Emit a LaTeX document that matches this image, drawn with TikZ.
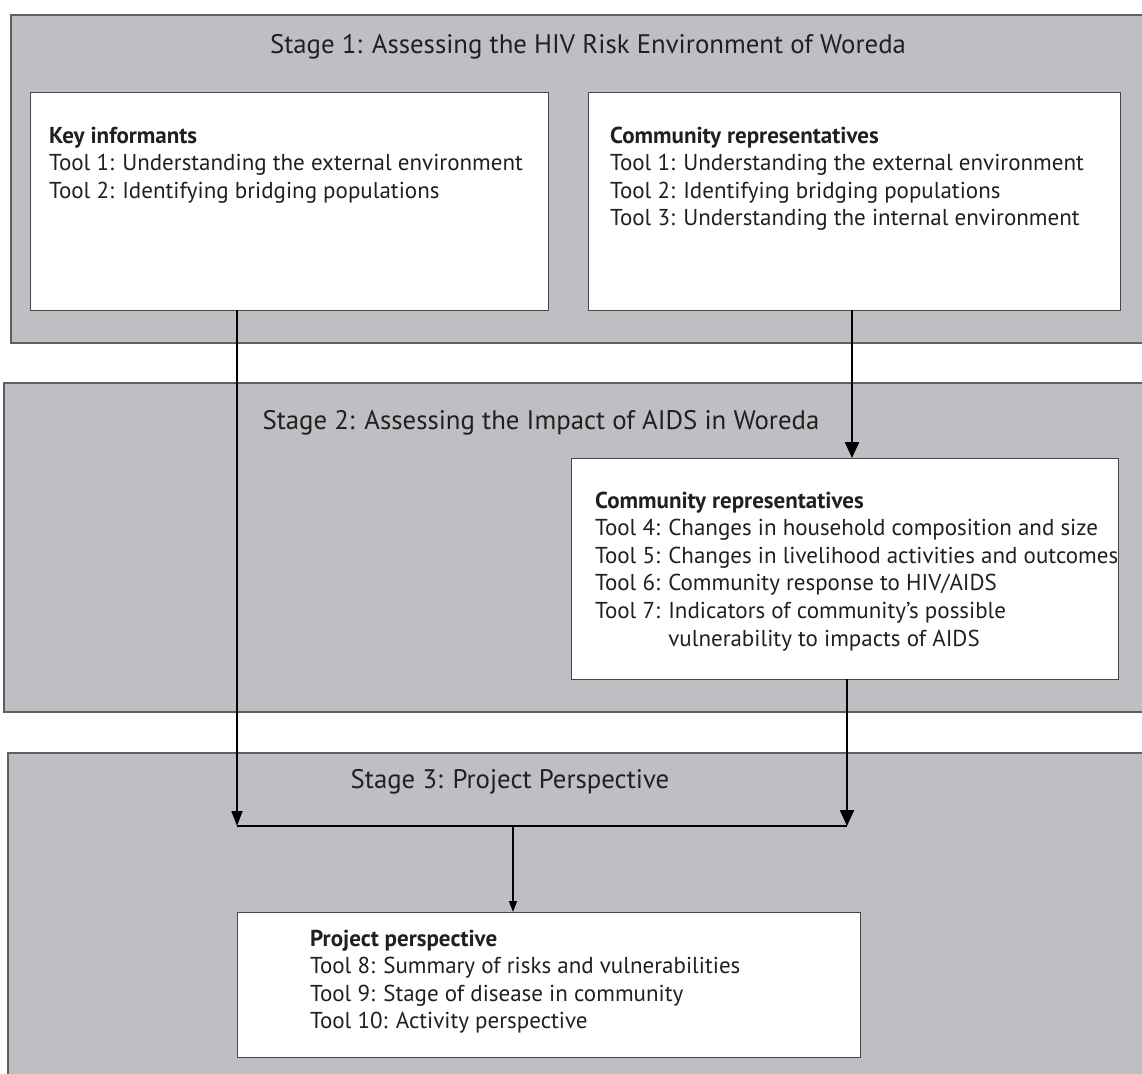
\documentclass[tikz,border=0pt]{standalone}
\usepackage{fontspec}
\setmainfont{PT Sans}
\usetikzlibrary{arrows.meta,calc}
\definecolor{stagegray}{RGB}{190,191,195}
\definecolor{edgegray}{RGB}{95,95,98}
\definecolor{boxedge}{RGB}{70,70,72}
\definecolor{ink}{RGB}{35,31,32}
\begin{document}
\begin{tikzpicture}[x=1pt,y=-1pt,
  stagebox/.style={draw=edgegray, line width=1.2pt, fill=stagegray, anchor=north west, inner sep=0pt, outer sep=0pt},
  whitebox/.style={draw=boxedge, line width=1pt, fill=white, anchor=north west, inner sep=0pt, outer sep=0pt},
  stagetitle/.style={anchor=base, inner sep=0pt, text=ink, font=\fontsize{26.8}{30}\selectfont},
  bodytext/.style={anchor=base west, inner sep=0pt, text=ink, font=\fontsize{23}{27.6}\selectfont},
  thinarrow/.style={draw=black, line width=1.6pt, -{Triangle[length=15pt,width=11pt]}},
  thickarrow/.style={draw=black, line width=2.3pt, -{Triangle[length=16pt,width=14pt]}},
  midarrow/.style={draw=black, line width=1.4pt, -{Triangle[length=11pt,width=8pt]}},
  joinline/.style={draw=black, line width=1.5pt}
]
\useasboundingbox (0,0) rectangle (1142,1073);
\clip (0,0) rectangle (1142,1073);

% stage panels
\node[stagebox, minimum width=1160pt, minimum height=328pt] (s1) at (11,15) {};
\node[stagebox, minimum width=1160pt, minimum height=329pt] (s2) at (4,383) {};
\node[stagebox, minimum width=1160pt, minimum height=340pt] (s3) at (8,753) {};

% titles
\node[stagetitle] (t1) at (588,53) {Stage 1: Assessing the HIV Risk Environment of Woreda};
\node[stagetitle] (t2) at (541,429) {Stage 2: Assessing the Impact of AIDS in Woreda};
\node[stagetitle] (t3) at (510,788) {Stage 3: Project Perspective};

% white boxes
\node[whitebox, minimum width=518pt, minimum height=218pt] (key) at (30,92) {};
\node[whitebox, minimum width=532pt, minimum height=218pt] (comm1) at (588,92) {};
\node[whitebox, minimum width=547pt, minimum height=221pt] (comm2) at (571,458) {};
\node[whitebox, minimum width=623pt, minimum height=145pt] (proj) at (237,912) {};

% box texts
\node[bodytext] (keytxt) at (49,143) {\vtop{%
  \hbox{\bfseries Key informants}
  \hbox{Tool 1: Understanding the external environment}
  \hbox{Tool 2: Identifying bridging populations}}};
\node[bodytext] (comm1txt) at (610,143) {\vtop{%
  \hbox{\bfseries Community representatives}
  \hbox{Tool 1: Understanding the external environment}
  \hbox{Tool 2: Identifying bridging populations}
  \hbox{Tool 3: Understanding the internal environment}}};
\node[bodytext] (comm2txt) at (595,508) {\vtop{%
  \hbox{\bfseries Community representatives}
  \hbox{Tool 4: Changes in household composition and size}
  \hbox{Tool 5: Changes in livelihood activities and outcomes}
  \hbox{Tool 6: Community response to HIV/AIDS}
  \hbox{Tool 7: Indicators of community’s possible}
  \hbox{\phantom{Tool 7: }vulnerability to impacts of AIDS}}};
\node[bodytext] (projtxt) at (310,946) {\vtop{%
  \hbox{\bfseries Project perspective}
  \hbox{Tool 8: Summary of risks and vulnerabilities}
  \hbox{Tool 9: Stage of disease in community}
  \hbox{Tool 10: Activity perspective}}};

% junction points
\coordinate (jl) at (237,826);
\coordinate (jr) at (847,826);
\coordinate (jm) at (513,826);
\coordinate (c1) at (852,0);

% connectors
\draw[thinarrow] (key.south -| jl) -- (jl);
\draw[thickarrow] (comm1.south -| c1) -- (comm2.north -| c1);
\draw[thickarrow] (comm2.south -| jr) -- (jr);
\draw[joinline] (jl) -- (jr);
\draw[midarrow] (jm) -- (proj.north -| jm);
\end{tikzpicture}
\end{document}
